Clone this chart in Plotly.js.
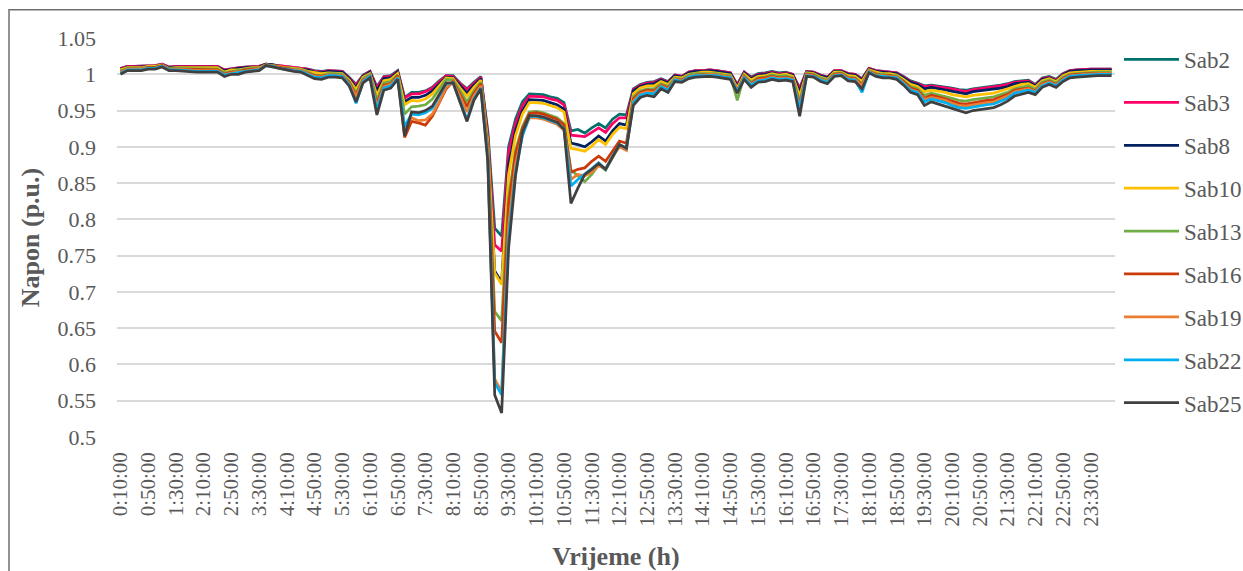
<!DOCTYPE html>
<html>
<head>
<meta charset="utf-8">
<script src="https://cdn.plot.ly/plotly-3.0.1.min.js"></script>
<style>html,body{margin:0;padding:0;background:#fff;}#chart{width:1243px;height:571px;}</style>
</head>
<body>
<div id="chart"></div>
<script>
const categories = [
"0:10:00","0:20:00","0:30:00","0:40:00","0:50:00","1:00:00",
"1:10:00","1:20:00","1:30:00","1:40:00","1:50:00","2:00:00",
"2:10:00","2:20:00","2:30:00","2:40:00","2:50:00","3:00:00",
"3:10:00","3:20:00","3:30:00","3:40:00","3:50:00","4:00:00",
"4:10:00","4:20:00","4:30:00","4:40:00","4:50:00","5:00:00",
"5:10:00","5:20:00","5:30:00","5:40:00","5:50:00","6:00:00",
"6:10:00","6:20:00","6:30:00","6:40:00","6:50:00","7:00:00",
"7:10:00","7:20:00","7:30:00","7:40:00","7:50:00","8:00:00",
"8:10:00","8:20:00","8:30:00","8:40:00","8:50:00","9:00:00",
"9:10:00","9:20:00","9:30:00","9:40:00","9:50:00","10:00:00",
"10:10:00","10:20:00","10:30:00","10:40:00","10:50:00","11:00:00",
"11:10:00","11:20:00","11:30:00","11:40:00","11:50:00","12:00:00",
"12:10:00","12:20:00","12:30:00","12:40:00","12:50:00","13:00:00",
"13:10:00","13:20:00","13:30:00","13:40:00","13:50:00","14:00:00",
"14:10:00","14:20:00","14:30:00","14:40:00","14:50:00","15:00:00",
"15:10:00","15:20:00","15:30:00","15:40:00","15:50:00","16:00:00",
"16:10:00","16:20:00","16:30:00","16:40:00","16:50:00","17:00:00",
"17:10:00","17:20:00","17:30:00","17:40:00","17:50:00","18:00:00",
"18:10:00","18:20:00","18:30:00","18:40:00","18:50:00","19:00:00",
"19:10:00","19:20:00","19:30:00","19:40:00","19:50:00","20:00:00",
"20:10:00","20:20:00","20:30:00","20:40:00","20:50:00","21:00:00",
"21:10:00","21:20:00","21:30:00","21:40:00","21:50:00","22:00:00",
"22:10:00","22:20:00","22:30:00","22:40:00","22:50:00","23:00:00",
"23:10:00","23:20:00","23:30:00","23:40:00","23:50:00","0:00:00"
];

const tickLabels = ["0:10:00","0:50:00","1:30:00","2:10:00","2:50:00","3:30:00","4:10:00","4:50:00","5:30:00","6:10:00","6:50:00","7:30:00","8:10:00","8:50:00","9:30:00","10:10:00","10:50:00","11:30:00","12:10:00","12:50:00","13:30:00","14:10:00","14:50:00","15:30:00","16:10:00","16:50:00","17:30:00","18:10:00","18:50:00","19:30:00","20:10:00","20:50:00","21:30:00","22:10:00","22:50:00","23:30:00"];

const yTickVals = [0.5,0.55,0.6,0.65,0.7,0.75,0.8,0.85,0.9,0.95,1,1.05];
const yTickText = ["0.5","0.55","0.6","0.65","0.7","0.75","0.8","0.85","0.9","0.95","1","1.05"];

const seriesNames = ["Sab2","Sab3","Sab8","Sab10","Sab13","Sab16","Sab19","Sab22","Sab25"];

const sab2 = [
1.008,1.011,1.011,1.011,1.012,1.012,1.014,1.010,1.011,1.011,
1.011,1.011,1.011,1.011,1.011,1.006,1.008,1.009,1.010,1.011,
1.011,1.014,1.013,1.011,1.010,1.010,1.009,1.007,1.005,1.004,
1.005,1.005,1.004,0.996,0.986,0.999,1.004,0.983,0.997,0.998,
1.005,0.968,0.975,0.975,0.977,0.982,0.991,0.998,0.998,0.988,
0.980,0.989,0.997,0.922,0.788,0.777,0.900,0.938,0.962,0.973,
0.973,0.972,0.969,0.967,0.961,0.922,0.924,0.919,0.926,0.932,
0.926,0.938,0.945,0.944,0.980,0.986,0.989,0.990,0.994,0.990,
0.999,0.997,1.003,1.005,1.005,1.006,1.005,1.003,1.002,0.986,
1.003,0.996,1.001,1.002,1.004,1.002,1.003,1.000,0.981,1.004,
1.003,0.999,0.996,1.005,1.005,1.001,1.000,0.994,1.008,1.005,
1.004,1.004,1.002,0.997,0.991,0.988,0.984,0.985,0.984,0.983,
0.981,0.979,0.978,0.980,0.981,0.982,0.983,0.985,0.987,0.990,
0.991,0.992,0.986,0.995,0.997,0.993,1.001,1.005,1.006,1.007,
1.007,1.007,1.007,1.007];

const sab3 = [
1.008,1.011,1.011,1.011,1.012,1.012,1.014,1.010,1.011,1.011,
1.011,1.011,1.011,1.011,1.011,1.006,1.008,1.009,1.010,1.011,
1.011,1.014,1.013,1.011,1.010,1.010,1.009,1.007,1.004,1.003,
1.005,1.005,1.004,0.995,0.985,0.998,1.004,0.981,0.996,0.997,
1.004,0.967,0.973,0.973,0.976,0.981,0.990,0.998,0.997,0.987,
0.979,0.988,0.996,0.918,0.765,0.756,0.893,0.932,0.957,0.970,
0.970,0.969,0.966,0.964,0.958,0.916,0.915,0.914,0.920,0.926,
0.920,0.932,0.940,0.940,0.979,0.985,0.988,0.989,0.993,0.989,
0.999,0.997,1.003,1.005,1.005,1.006,1.005,1.003,1.002,0.985,
1.003,0.995,1.000,1.001,1.003,1.001,1.002,1.000,0.980,1.004,
1.003,0.999,0.996,1.005,1.005,1.001,1.000,0.993,1.008,1.005,
1.004,1.004,1.002,0.996,0.990,0.987,0.983,0.984,0.983,0.982,
0.980,0.978,0.976,0.979,0.980,0.981,0.982,0.984,0.986,0.989,
0.990,0.991,0.985,0.994,0.996,0.992,1.000,1.005,1.006,1.007,
1.007,1.007,1.007,1.007];

const sab8 = [
1.007,1.010,1.010,1.010,1.011,1.011,1.013,1.009,1.010,1.010,
1.010,1.010,1.010,1.010,1.010,1.005,1.007,1.008,1.009,1.010,
1.010,1.014,1.013,1.010,1.009,1.009,1.008,1.006,1.003,1.002,
1.004,1.004,1.003,0.994,0.982,0.997,1.003,0.977,0.994,0.995,
1.003,0.962,0.968,0.968,0.971,0.977,0.987,0.996,0.995,0.984,
0.974,0.985,0.994,0.912,0.729,0.713,0.875,0.922,0.950,0.965,
0.965,0.964,0.961,0.958,0.952,0.905,0.903,0.900,0.907,0.915,
0.908,0.922,0.932,0.930,0.977,0.983,0.986,0.987,0.992,0.988,
0.998,0.996,1.002,1.004,1.004,1.005,1.004,1.002,1.001,0.983,
1.002,0.994,0.999,1.000,1.002,1.000,1.001,0.999,0.976,1.003,
1.002,0.998,0.995,1.004,1.004,1.000,0.999,0.992,1.007,1.004,
1.003,1.003,1.001,0.995,0.989,0.986,0.980,0.982,0.980,0.979,
0.977,0.975,0.973,0.976,0.977,0.978,0.979,0.981,0.983,0.987,
0.988,0.989,0.984,0.993,0.995,0.991,0.999,1.004,1.005,1.006,
1.006,1.006,1.006,1.006];

const sab10 = [
1.006,1.009,1.009,1.009,1.011,1.011,1.013,1.008,1.009,1.009,
1.009,1.009,1.009,1.009,1.009,1.003,1.006,1.006,1.008,1.009,
1.009,1.013,1.012,1.010,1.009,1.008,1.007,1.004,1.002,1.001,
1.002,1.002,1.001,0.992,0.979,0.996,1.001,0.971,0.991,0.993,
1.001,0.958,0.964,0.963,0.966,0.973,0.984,0.995,0.994,0.981,
0.970,0.982,0.992,0.908,0.726,0.710,0.862,0.915,0.945,0.961,
0.961,0.960,0.957,0.954,0.948,0.898,0.896,0.894,0.901,0.910,
0.903,0.917,0.927,0.925,0.973,0.981,0.984,0.984,0.990,0.986,
0.996,0.995,1.000,1.002,1.003,1.003,1.002,1.000,0.999,0.981,
1.000,0.992,0.997,0.998,1.001,0.999,1.000,0.997,0.970,1.002,
1.001,0.996,0.993,1.003,1.003,0.998,0.997,0.990,1.006,1.003,
1.001,1.001,0.999,0.993,0.986,0.983,0.976,0.978,0.977,0.975,
0.972,0.970,0.969,0.971,0.972,0.973,0.974,0.977,0.980,0.984,
0.986,0.987,0.982,0.991,0.994,0.990,0.998,1.002,1.003,1.004,
1.004,1.004,1.004,1.004];

const sab13 = [
1.004,1.008,1.008,1.008,1.010,1.010,1.012,1.008,1.008,1.008,
1.008,1.007,1.007,1.007,1.007,1.002,1.004,1.005,1.007,1.008,
1.008,1.013,1.012,1.009,1.008,1.007,1.006,1.003,0.999,0.998,
1.001,1.001,1.000,0.990,0.974,0.994,1.000,0.964,0.988,0.990,
0.999,0.945,0.955,0.956,0.958,0.966,0.980,0.993,0.992,0.976,
0.962,0.977,0.989,0.900,0.673,0.660,0.830,0.895,0.928,0.948,
0.949,0.947,0.944,0.940,0.932,0.868,0.860,0.852,0.862,0.875,
0.868,0.885,0.902,0.898,0.969,0.977,0.980,0.980,0.987,0.983,
0.995,0.993,0.999,1.001,1.001,1.002,1.001,0.999,0.998,0.964,
0.998,0.989,0.995,0.996,0.999,0.997,0.998,0.995,0.962,1.001,
1.000,0.995,0.992,1.001,1.002,0.996,0.995,0.987,1.005,1.001,
1.000,1.000,0.998,0.991,0.983,0.980,0.971,0.974,0.972,0.970,
0.967,0.964,0.963,0.965,0.966,0.968,0.969,0.972,0.975,0.980,
0.982,0.984,0.979,0.989,0.992,0.988,0.996,1.000,1.001,1.002,
1.003,1.003,1.003,1.003];

const sab16 = [
1.003,1.007,1.007,1.007,1.009,1.009,1.012,1.007,1.007,1.007,
1.007,1.006,1.006,1.006,1.006,1.000,1.003,1.003,1.006,1.007,
1.007,1.013,1.011,1.009,1.007,1.006,1.005,1.001,0.998,0.997,
0.999,0.999,0.998,0.989,0.971,0.992,0.998,0.959,0.985,0.987,
0.998,0.913,0.935,0.933,0.930,0.942,0.960,0.980,0.990,0.973,
0.955,0.974,0.987,0.896,0.646,0.630,0.820,0.890,0.925,0.946,
0.947,0.945,0.942,0.938,0.930,0.865,0.869,0.871,0.880,0.887,
0.880,0.894,0.908,0.905,0.966,0.975,0.978,0.977,0.985,0.981,
0.993,0.992,0.997,0.999,1.000,1.000,0.999,0.997,0.996,0.978,
0.997,0.987,0.994,0.995,0.997,0.995,0.996,0.994,0.958,1.000,
0.999,0.993,0.990,1.000,1.001,0.995,0.994,0.985,1.004,1.000,
0.998,0.998,0.996,0.990,0.981,0.978,0.967,0.971,0.969,0.966,
0.963,0.960,0.959,0.961,0.962,0.964,0.965,0.968,0.972,0.978,
0.980,0.981,0.977,0.987,0.990,0.986,0.994,0.999,1.000,1.001,
1.001,1.001,1.001,1.001];

const sab19 = [
1.002,1.007,1.007,1.007,1.008,1.008,1.011,1.006,1.007,1.006,
1.006,1.005,1.005,1.005,1.005,0.999,1.002,1.003,1.005,1.006,
1.007,1.013,1.011,1.008,1.006,1.006,1.005,1.001,0.997,0.996,
0.999,0.999,0.998,0.987,0.969,0.991,0.998,0.955,0.983,0.986,
0.996,0.925,0.940,0.936,0.937,0.945,0.962,0.982,0.989,0.969,
0.948,0.970,0.984,0.890,0.580,0.562,0.790,0.875,0.917,0.940,
0.940,0.938,0.935,0.931,0.923,0.855,0.862,0.860,0.865,0.874,
0.870,0.887,0.900,0.895,0.963,0.973,0.976,0.975,0.984,0.979,
0.993,0.991,0.997,0.999,0.999,1.000,0.999,0.997,0.996,0.977,
0.996,0.986,0.992,0.993,0.996,0.994,0.995,0.993,0.955,0.999,
0.998,0.993,0.990,0.999,1.000,0.994,0.993,0.984,1.004,0.999,
0.998,0.998,0.996,0.988,0.979,0.976,0.965,0.968,0.966,0.964,
0.960,0.957,0.956,0.958,0.959,0.961,0.962,0.966,0.970,0.976,
0.978,0.980,0.976,0.986,0.989,0.985,0.993,0.998,0.999,1.000,
1.001,1.001,1.001,1.001];

const sab22 = [
1.001,1.006,1.006,1.006,1.008,1.008,1.011,1.006,1.006,1.005,
1.005,1.004,1.004,1.004,1.004,0.999,1.001,1.002,1.004,1.005,
1.006,1.012,1.011,1.008,1.006,1.005,1.004,1.000,0.996,0.995,
0.998,0.998,0.997,0.986,0.960,0.990,0.997,0.951,0.981,0.984,
0.995,0.928,0.945,0.944,0.947,0.953,0.970,0.987,0.988,0.964,
0.938,0.966,0.981,0.885,0.575,0.558,0.775,0.865,0.915,0.942,
0.942,0.940,0.937,0.933,0.925,0.846,0.855,0.862,0.870,0.878,
0.869,0.887,0.903,0.898,0.961,0.971,0.974,0.973,0.983,0.978,
0.992,0.990,0.996,0.998,0.998,0.999,0.998,0.996,0.995,0.976,
0.995,0.985,0.991,0.992,0.995,0.993,0.994,0.992,0.952,0.998,
0.997,0.992,0.989,0.998,0.999,0.993,0.992,0.975,1.003,0.998,
0.997,0.997,0.995,0.987,0.978,0.975,0.962,0.966,0.964,0.961,
0.957,0.954,0.953,0.955,0.956,0.958,0.959,0.963,0.967,0.974,
0.976,0.978,0.975,0.984,0.988,0.984,0.992,0.997,0.998,0.999,
1.000,1.000,1.000,1.000];

const sab25 = [
1.000,1.005,1.005,1.005,1.007,1.007,1.010,1.005,1.005,1.004,
1.004,1.003,1.003,1.003,1.003,0.997,1.000,1.000,1.003,1.004,
1.005,1.012,1.010,1.007,1.005,1.004,1.003,0.998,0.994,0.993,
0.996,0.996,0.995,0.984,0.962,0.988,0.995,0.944,0.978,0.981,
0.993,0.915,0.948,0.947,0.950,0.956,0.972,0.988,0.988,0.962,
0.935,0.964,0.980,0.880,0.558,0.533,0.760,0.860,0.920,0.943,
0.943,0.941,0.938,0.934,0.924,0.822,0.843,0.862,0.869,0.877,
0.869,0.887,0.903,0.898,0.957,0.968,0.971,0.969,0.980,0.975,
0.990,0.989,0.994,0.996,0.997,0.997,0.996,0.994,0.993,0.974,
0.993,0.982,0.989,0.990,0.993,0.991,0.992,0.990,0.942,0.997,
0.996,0.990,0.987,0.997,0.998,0.991,0.990,0.980,1.002,0.997,
0.995,0.995,0.993,0.985,0.975,0.972,0.957,0.962,0.959,0.956,
0.952,0.949,0.947,0.950,0.951,0.953,0.954,0.958,0.963,0.970,
0.973,0.975,0.972,0.982,0.986,0.982,0.990,0.995,0.996,0.997,
0.998,0.998,0.998,0.998];

const seriesValues = [sab2, sab3, sab8, sab10, sab13, sab16, sab19, sab22, sab25];
const seriesColors = ["#00716B","#FF0066","#002060","#FFC000","#70AD47","#CC3A0A","#ED7D31","#00B0F0","#404040"];

const FONT = 'Liberation Serif';

const traces = seriesNames.map((name, k) => ({
  type: 'scatter',
  mode: 'lines',
  name: name,
  legendgroup: name,
  x: categories,
  y: seriesValues[k],
  line: {color: seriesColors[k], width: 2.75},
  hoverinfo: 'x+y+name'
}));

const layout = {
  width: 1243,
  height: 571,
  margin: {l: 117, r: 128, t: 38, b: 134, pad: 0, autoexpand: false},
  paper_bgcolor: '#ffffff',
  plot_bgcolor: '#ffffff',
  font: {family: FONT, color: '#595959', size: 22},
  showlegend: true,
  xaxis: {
    type: 'category',
    range: [-0.5, 143.5],
    tickmode: 'array',
    tickvals: tickLabels,
    ticktext: tickLabels,
    tickangle: -90,
    tickfont: {family: FONT, size: 21, color: '#595959'},
    showgrid: false,
    zeroline: false,
    showline: false,
    ticks: '',
    ticklabelstandoff: 10,
    automargin: false,
    title: {text: '<b>Vrijeme (h)</b>', font: {family: FONT, size: 26, color: '#595959'}, standoff: 20}
  },
  yaxis: {
    range: [0.5, 1.05],
    tickmode: 'array',
    tickvals: yTickVals,
    ticktext: yTickText,
    tickfont: {family: FONT, size: 22, color: '#595959'},
    showgrid: true,
    gridcolor: '#D9D9D9',
    gridwidth: 1.5,
    zeroline: false,
    showline: false,
    ticks: '',
    ticklabelstandoff: 20,
    automargin: false,
    title: {text: '<b>Napon (p.u.)</b>', font: {family: FONT, size: 26, color: '#595959'}, standoff: 10}
  },
  legend: {
    x: 1.004,
    y: 1.0,
    xanchor: 'left',
    yanchor: 'top',
    font: {family: FONT, size: 23, color: '#595959'},
    itemwidth: 55,
    tracegroupgap: 10,
    bgcolor: 'rgba(0,0,0,0)',
    borderwidth: 0
  },
  shapes: [{
    type: 'rect', xref: 'paper', yref: 'paper',
    x0: -0.1082, x1: 1.3, y0: -0.45, y1: 1.0709,
    line: {color: '#6E6E6E', width: 1.5},
    fillcolor: 'rgba(0,0,0,0)',
    layer: 'below'
  }]
};

Plotly.newPlot('chart', traces, layout, {displayModeBar: false, responsive: false});
</script>
</body>
</html>
